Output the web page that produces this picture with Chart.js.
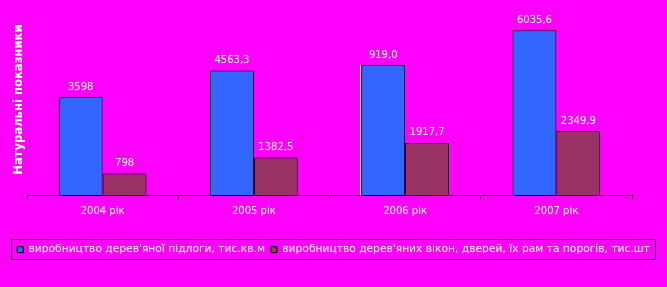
<!DOCTYPE html>
<html lang="uk">
<head>
<meta charset="utf-8">
<title>Натуральні показники</title>
<script src="https://cdn.jsdelivr.net/npm/chart.js@4.4.1/dist/chart.umd.min.js"></script>
<style>
    html, body { margin: 0; padding: 0; background: #ff00ff; }
    #wrap { width: 667px; height: 287px; }
</style>
</head>
<body>
<div id="wrap"><canvas id="prodChart" width="667" height="287"></canvas></div>
<script>
// дані діаграми
const years = ['2004 рік', '2005 рік', '2006 рік', '2007 рік'];
const floorValues = [3598, 4563.3, 4770, 6035.6];
const windowValues = [798, 1382.5, 1917.7, 2349.9];
const floorLabels = ['3598', '4563,3', '919,0', '6035,6'];
const windowLabels = ['798', '1382,5', '1917,7', '2349,9'];
const seriesNames = [
    'виробництво дерев\'яної підлоги, тис.кв.м',
    'виробництво дерев\'яних вікон, дверей, їх рам та порогів, тис.шт'
];
const yTitle = 'Натуральні показники';

(function() {
    const FONT = 'DejaVu Sans';

    // фон полотна
    const bgPlugin = {
        id: 'bg',
        beforeDraw(chart) {
            const ctx = chart.ctx;
            ctx.save();
            ctx.fillStyle = '#ff00ff';
            ctx.fillRect(0, 0, chart.width, chart.height);
            ctx.restore();
        }
    };

    // підписи значень над стовпцями
    const valuePlugin = {
        id: 'values',
        afterDatasetsDraw(chart) {
            const ctx = chart.ctx;
            const texts = [floorLabels, windowLabels];
            ctx.save();
            ctx.font = '10px "' + FONT + '"';
            ctx.fillStyle = '#ffffff';
            ctx.textAlign = 'center';
            ctx.textBaseline = 'middle';
            texts.forEach((arr, d) => {
                chart.getDatasetMeta(d).data.forEach((bar, i) => {
                    ctx.fillText(arr[i], bar.x, bar.y - 10);
                });
            });
            // біла смуга ліворуч від стовпця 2006
            const b = chart.getDatasetMeta(0).data[2];
            ctx.strokeStyle = '#ffffff';
            ctx.lineWidth = 1;
            ctx.beginPath();
            ctx.moveTo(Math.round(b.x - b.width / 2) - 0.5, b.y);
            ctx.lineTo(Math.round(b.x - b.width / 2) - 0.5, b.base);
            ctx.stroke();
            ctx.restore();
        }
    };

    // рамка навколо легенди
    const legendBoxPlugin = {
        id: 'legendBox',
        afterDraw(chart) {
            const boxes = chart.legend && chart.legend.legendHitBoxes;
            if (!boxes || !boxes.length) return;
            const first = boxes[0], last = boxes[boxes.length - 1];
            const left = Math.round(first.left) - 5.5;
            const right = Math.round(last.left + last.width) + 5.5;
            const top = Math.round(first.top) - 4.5;
            const bottom = Math.round(first.top + first.height) + 4.5;
            const ctx = chart.ctx;
            ctx.save();
            ctx.strokeStyle = '#000000';
            ctx.lineWidth = 1;
            ctx.strokeRect(left, top, right - left, bottom - top);
            ctx.restore();
        }
    };

    function initChart() {
        const ctx = document.getElementById('prodChart').getContext('2d');
        new Chart(ctx, {
            type: 'bar',
            data: {
                labels: years,
                datasets: [
                    { label: seriesNames[0], data: floorValues, backgroundColor: '#3366ff', borderColor: '#000000', borderWidth: 1 },
                    { label: seriesNames[1], data: windowValues, backgroundColor: '#993366', borderColor: '#000000', borderWidth: 1 }
                ]
            },
            options: {
                responsive: false,
                animation: false,
                devicePixelRatio: 1,
                layout: { padding: { top: 4, left: 0, right: 0, bottom: 22 } },
                datasets: { bar: { categoryPercentage: 0.58, barPercentage: 1 } },
                plugins: {
                    tooltip: { enabled: false },
                    legend: {
                        position: 'bottom',
                        labels: {
                            color: '#ffffff',
                            font: { family: FONT, size: 10.7 },
                            boxWidth: 6,
                            boxHeight: 6,
                            padding: 6
                        }
                    }
                },
                scales: {
                    x: {
                        grid: { display: true, drawOnChartArea: false, color: '#000000', tickLength: 4, offset: true },
                        border: { display: true, color: '#000000', width: 1 },
                        ticks: { color: '#ffffff', font: { family: FONT, size: 10 }, padding: 6, maxRotation: 0 },
                        afterFit(s) { s.height = 43; }
                    },
                    y: {
                        min: 0,
                        max: 7000,
                        grid: { display: false },
                        border: { display: false },
                        ticks: { display: false },
                        title: {
                            display: true,
                            text: yTitle,
                            color: '#ffffff',
                            font: { family: FONT, size: 11.6, weight: 'bold' },
                            padding: { top: 12, bottom: 2 }
                        },
                        afterFit(s) { s.width = 27; }
                    },
                    yRight: {
                        position: 'right',
                        display: true,
                        grid: { display: false },
                        border: { display: false },
                        ticks: { display: false },
                        afterFit(s) { s.width = 35; }
                    }
                }
            },
            plugins: [bgPlugin, valuePlugin, legendBoxPlugin]
        });
    }

    initChart();
})();
</script>
</body>
</html>
